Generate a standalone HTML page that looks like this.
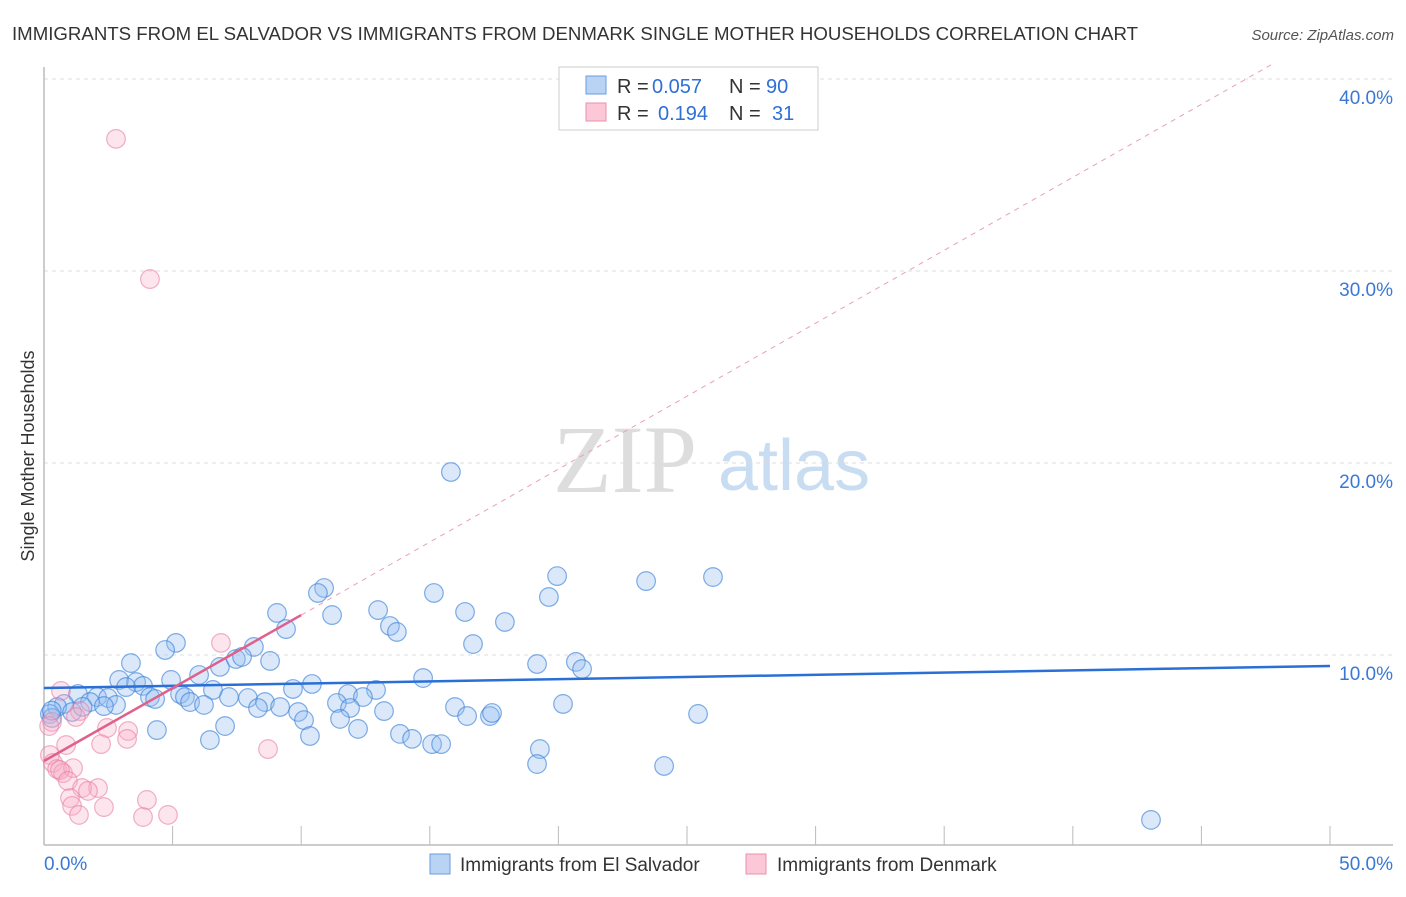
<!DOCTYPE html>
<html><head><meta charset="utf-8"><style>
body{margin:0;background:#fff;font-family:"Liberation Sans",sans-serif;}
</style></head><body>
<svg width="1406" height="892" viewBox="0 0 1406 892" xmlns="http://www.w3.org/2000/svg">
<text x="12" y="40" font-size="18" fill="#333" textLength="1126" lengthAdjust="spacingAndGlyphs">IMMIGRANTS FROM EL SALVADOR VS IMMIGRANTS FROM DENMARK SINGLE MOTHER HOUSEHOLDS CORRELATION CHART</text>
<text x="1394" y="40" font-size="15" fill="#555" font-style="italic" text-anchor="end">Source: ZipAtlas.com</text>
<g>
<text x="553" y="492" font-size="96" font-family="Liberation Serif, serif" fill="#ddd">ZIP</text>
<text x="718" y="490" font-size="72" fill="#c8dcf2">atlas</text>
</g>
<g id="grid"></g>
<g id="axes"></g>
<g id="marks"></g>
<text transform="translate(34,456) rotate(-90)" font-size="18" fill="#333" text-anchor="middle">Single Mother Households</text>
<g>
<rect x="559" y="67" width="259" height="63" fill="#fff" stroke="#ccc"/>
<rect x="586" y="76" width="20" height="18" fill="#b9d3f5" stroke="#6a9be0"/>
<rect x="586" y="103" width="20" height="18" fill="#fcc8d8" stroke="#e890ac"/>
<text x="617" y="93" font-size="20" fill="#333">R =</text>
<text x="652" y="93" font-size="20" fill="#2f6fd6">0.057</text>
<text x="729" y="93" font-size="20" fill="#333">N =</text>
<text x="766" y="93" font-size="20" fill="#2f6fd6">90</text>
<text x="617" y="120" font-size="20" fill="#333">R =</text>
<text x="658" y="120" font-size="20" fill="#2f6fd6">0.194</text>
<text x="729" y="120" font-size="20" fill="#333">N =</text>
<text x="772" y="120" font-size="20" fill="#2f6fd6">31</text>
</g>
<g>
<rect x="430" y="854" width="20" height="20" fill="#b9d3f5" stroke="#6a9be0"/>
<text x="460" y="871" font-size="19" fill="#333">Immigrants from El Salvador</text>
<rect x="746" y="854" width="20" height="20" fill="#fcc8d8" stroke="#e890ac"/>
<text x="777" y="871" font-size="19" fill="#333">Immigrants from Denmark</text>
</g>
</svg>
<script>
const yTicks=[10,20,30,40];
const yTickLabels=["10.0%","20.0%","30.0%","40.0%"];
const xTickLabels=["0.0%","50.0%"];
const blueX=[15.82,10.89,10.65,19.95,23.41,26.01,15.16,19.63,9.06,11.2,12.99,16.37,17.92,9.41,13.45,13.72,5.13,16.68,4.71,8.16,6.84,7.46,7.7,8.79,3.38,19.17,20.68,20.92,6.03,4.94,14.74,2.92,3.58,3.85,3.19,10.42,9.68,6.57,12.91,11.82,5.29,2.06,7.19,7.93,5.48,1.32,4.12,4.32,2.49,1.79,5.68,8.59,12.4,0.78,0.51,2.8,2.33,6.22,8.32,9.18,11.39,11.9,13.22,15.98,20.18,25.43,9.88,10.11,11.51,16.45,17.34,17.42,1.09,0.23,0.31,7.04,4.39,12.21,10.34,13.84,14.31,6.45,15.09,15.44,19.28,19.17,24.11,43.04,0.3,1.5];
const blueY=[19.53,13.49,13.23,14.11,13.85,14.06,13.23,13.02,12.19,12.08,12.34,12.24,11.72,11.35,11.51,11.2,10.63,10.57,10.26,10.42,9.38,9.79,9.9,9.69,9.58,9.53,9.64,9.27,8.96,8.7,8.8,8.7,8.59,8.39,8.33,8.49,8.23,8.18,8.18,7.97,7.97,7.81,7.81,7.76,7.81,7.97,7.81,7.71,7.76,7.55,7.55,7.55,7.81,7.45,7.29,7.4,7.34,7.4,7.24,7.29,7.5,7.24,7.08,7.29,7.45,6.93,7.03,6.61,6.67,6.82,6.82,6.98,7.03,6.93,6.72,6.3,6.09,6.15,5.78,5.89,5.63,5.57,5.36,5.36,5.1,4.32,4.22,1.41,7.1,7.3];
const pinkX=[2.8,4.12,6.88,8.71,0.66,1.4,1.24,0.31,2.45,3.27,3.23,2.22,0.86,0.23,0.35,0.51,0.74,1.13,0.62,0.93,2.1,1.48,1.71,1.01,1.09,2.33,1.36,4.0,3.85,4.82,0.2];
const pinkY=[36.88,29.58,10.63,5.1,8.13,7.08,6.77,6.51,6.2,6.04,5.63,5.36,5.31,4.79,4.38,4.06,3.85,4.11,4.01,3.44,3.07,3.07,2.92,2.55,2.14,2.08,1.67,2.45,1.56,1.67,6.3];
const blueTrend=[8.28,0.023];
const pinkTrend=[4.48,0.76];
const NS="http://www.w3.org/2000/svg";
const sx=v=>44+v*25.72, sy=v=>847-v*19.2;
function mk(tag,attrs,parent){const e=document.createElementNS(NS,tag);for(const k in attrs)e.setAttribute(k,attrs[k]);document.getElementById(parent).appendChild(e);return e;}
yTicks.forEach((t,i)=>{
  const l=mk('line',{x1:44,x2:1393,y1:sy(t),y2:sy(t),stroke:'#ddd','stroke-dasharray':'4,4'},'grid');
  
  
  const tx=mk('text',{x:1393,y:sy(t)+25,'font-size':19,fill:'#3a78d4','text-anchor':'end'},'grid');
  tx.textContent=yTickLabels[i];
  
  
});
const ya=mk('line',{x1:44,x2:44,y1:67,y2:845,stroke:'#bbb','stroke-width':1.5},'axes');


const xa=mk('line',{x1:44,x2:1393,y1:845,y2:845,stroke:'#bbb','stroke-width':1.5},'axes');


for(let i=1;i<=10;i++){
  const t=mk('line',{x1:sx(i*5),x2:sx(i*5),y1:826,y2:845,stroke:'#bbb'},'axes');
  
  
}
[[0,'start',44],[50,'end',1393]].forEach((d,i)=>{
  const tx=mk('text',{x:d[2],y:870,'font-size':19,fill:'#3a78d4','text-anchor':d[1]},'axes');
  tx.textContent=xTickLabels[i];
  
  
});
blueX.forEach((x,i)=>{
  const c=mk('circle',{cx:sx(x),cy:sy(blueY[i]),r:9.3,fill:'rgba(150,190,240,0.35)',stroke:'rgba(60,130,215,0.65)','stroke-width':1.2},'marks');
  
  
});
pinkX.forEach((x,i)=>{
  const c=mk('circle',{cx:sx(x),cy:sy(pinkY[i]),r:9.3,fill:'rgba(248,175,198,0.32)',stroke:'rgba(232,125,162,0.6)','stroke-width':1.2},'marks');
  
  
});
const bt=mk('line',{x1:sx(0),y1:sy(blueTrend[0]),x2:sx(50),y2:sy(blueTrend[0]+50*blueTrend[1]),stroke:'#2a6fd6','stroke-width':2.5},'marks');


const xEnd=(40-pinkTrend[0])/pinkTrend[1]+1;
const pd=mk('line',{x1:sx(10),y1:sy(pinkTrend[0]+10*pinkTrend[1]),x2:sx(xEnd),y2:sy(pinkTrend[0]+xEnd*pinkTrend[1]),stroke:'#e8a0b8','stroke-width':1,'stroke-dasharray':'5,5'},'marks');


const pt=mk('line',{x1:sx(0),y1:sy(pinkTrend[0]),x2:sx(10),y2:sy(pinkTrend[0]+10*pinkTrend[1]),stroke:'#e0608c','stroke-width':2.5},'marks');


</script>
</body></html>
